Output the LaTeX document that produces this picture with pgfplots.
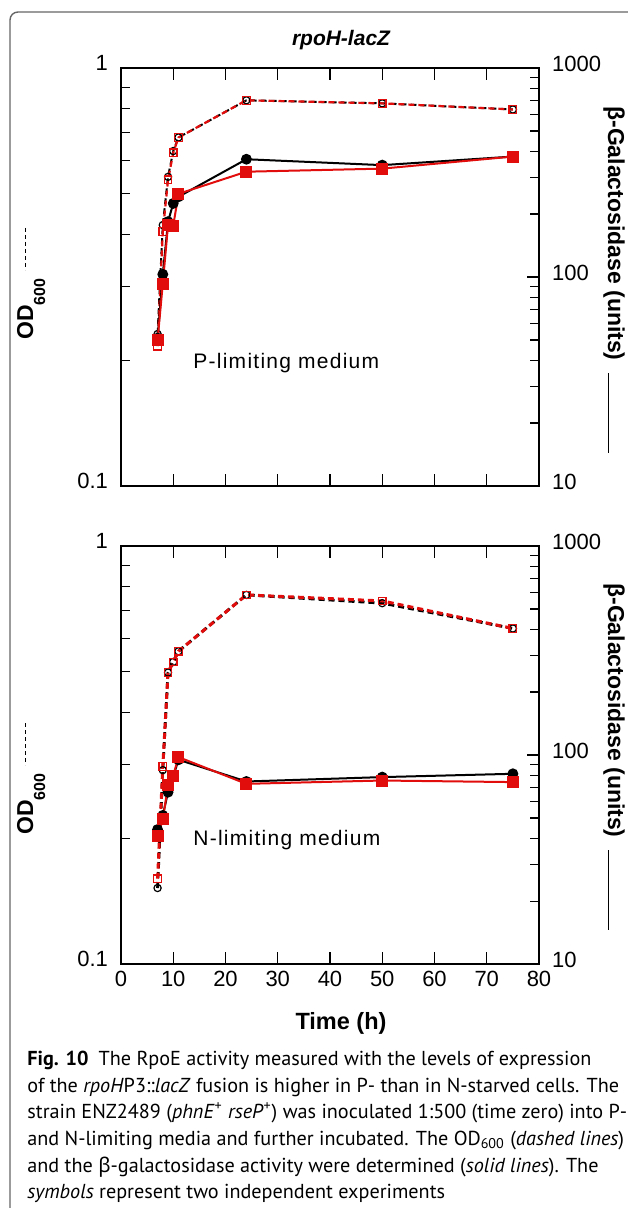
\documentclass[border=0pt]{standalone}
\usepackage{pgfplots}
\pgfplotsset{compat=1.18}
\usepackage{fontspec}
\setmainfont{Liberation Sans}
\newfontfamily\capfont{PT Sans}
\newfontfamily\greekfont{Noto Sans}
\newfontfamily\medfont{Liberation Sans}[LetterSpace=6]
\definecolor{myred}{RGB}{225,12,12}

\pgfplotsset{
  panel/.style={
    anchor=south west, scale only axis,
    width=209pt, height=209pt,
    xmin=0, xmax=80,
    tick align=inside, major tick length=6pt, minor tick length=4.5pt,
    tick style={black, line width=0.6pt},
    ticklabel style={font=\fontsize{11}{13}\selectfont},
    /pgf/number format/assume math mode=true,
    axis line style={line width=0.8pt},
    clip=false,
  },
  leftax/.style={
    ymin=0.1, ymax=1, ytick={0.1,1}, yticklabels={0.1,1},
    minor ytick={0.2,0.3,0.4,0.5,0.6,0.7,0.8,0.9},
    ytick pos=left, yticklabel style={yshift=2.5pt, xshift=-3pt},
  },
  rightax/.style={
    ymin=10, ymax=1000, axis x line=none, axis y line*=right,
    ytick={10,100,1000}, yticklabels={10,100,1000},
    minor ytick={20,30,40,50,60,70,80,90,200,300,400,500,600,700,800,900},
    yticklabel style={yshift=2pt, xshift=3pt},
  },
  od/.style={black, line width=1pt, dash pattern=on 3pt off 2pt,
    mark=o, mark size=1.8pt, mark options={solid, line width=0.6pt}},
  odred/.style={myred, line width=1.1pt, dash pattern=on 3pt off 2pt,
    mark=square, mark size=1.9pt, mark options={solid, line width=0.6pt}},
  bgal/.style={black, line width=1pt, mark=*, mark size=2.2pt},
  bgalred/.style={myred, line width=1pt, mark=square*, mark size=2.5pt},
}

\newcommand{\odlabel}{OD\raisebox{-6pt}{\fontsize{8}{9}\selectfont 600}}

\begin{document}
\begin{tikzpicture}
\useasboundingbox (0,0) rectangle (313.5pt,-604pt);
\draw[black!60, line width=0.7pt, rounded corners=4pt] (5pt,-615pt) -- (5pt,-6pt) -- (325pt,-6pt);

% ---- P-limiting panel ----
\begin{axis}[ymode=log, at={(60.5pt,-243pt)}, panel, leftax,
  xtick={10,20,...,70}, xticklabels={}]
\addplot[od] coordinates {(7,0.231) (8,0.421) (9,0.549) (10,0.633) (11,0.682) (24,0.837) (50,0.823) (75,0.796)};
\addplot[odred] coordinates {(7,0.216) (8,0.406) (9,0.540) (10,0.627) (11,0.682) (24,0.837) (50,0.823) (75,0.796)};
\end{axis}
\begin{axis}[ymode=log, at={(60.5pt,-243pt)}, panel, rightax]
\addplot[bgal] coordinates {(7,51) (8,103) (9,184) (10,225) (11,242) (24,366) (50,343) (75,377)};
\addplot[bgalred] coordinates {(7,50) (8,93) (9,177) (10,176) (11,250) (24,319) (50,330) (75,377)};
\end{axis}

% ---- N-limiting panel ----
\begin{axis}[ymode=log, at={(60.5pt,-482pt)}, panel, leftax,
  xtick={0,10,...,80}, xticklabels={0,10,20,30,40,50,60,70,80}]
\addplot[od, line width=1.4pt] coordinates {(7,0.152) (8,0.291) (9,0.498) (10,0.528) (11,0.560) (24,0.764) (50,0.730) (75,0.635)};
\addplot[odred, line width=1.5pt] coordinates {(7,0.160) (8,0.297) (9,0.498) (10,0.528) (11,0.560) (24,0.764) (50,0.739) (75,0.635)};
\end{axis}
\begin{axis}[ymode=log, at={(60.5pt,-482pt)}, panel, rightax]
\addplot[bgal] coordinates {(7,44) (8,51.4) (9,66.4) (10,79) (11,94.9) (24,74.7) (50,78.4) (75,81.3)};
\addplot[bgalred] coordinates {(7,40.8) (8,49.2) (9,71.5) (10,79.8) (11,97.7) (24,72.8) (50,75.5) (75,74.2)};
\end{axis}

% titles and labels
\node[font=\bfseries\itshape\fontsize{10.5}{12}\selectfont] at (170.5pt,-20pt) {rpoH-lacZ};
\node[font=\bfseries\fontsize{11.75}{14}\selectfont] at (170.5pt,-511.5pt) {Time (h)};

\node[font=\medfont\fontsize{10.5}{12}\selectfont, anchor=base west, inner sep=0] at (96.5pt,-184pt) {P-limiting medium};
\node[font=\medfont\fontsize{10.5}{12}\selectfont, anchor=base west, inner sep=0] at (96.5pt,-422.5pt) {N-limiting medium};

\node[rotate=90, anchor=base west, inner sep=0, font=\bfseries\fontsize{11.5}{13}\selectfont] at (16.5pt,-170pt) {\odlabel};
\draw[line width=0.5pt, dash pattern=on 2.2pt off 1.3pt] (12.5pt,-114pt) -- (12.5pt,-135pt);
\node[rotate=90, anchor=base west, inner sep=0, font=\bfseries\fontsize{11.5}{13}\selectfont] at (16.5pt,-417.5pt) {\odlabel};
\draw[line width=0.5pt, dash pattern=on 2.2pt off 1.3pt] (12.5pt,-361.5pt) -- (12.5pt,-382.5pt);

\node[rotate=-90, font=\bfseries\fontsize{11.5}{13}\selectfont] at (307pt,-116.75pt) {β-Galactosidase (units)};
\draw[line width=0.5pt] (304pt,-186.5pt) -- (304pt,-226.5pt);
\node[rotate=-90, font=\bfseries\fontsize{11.5}{13}\selectfont] at (307pt,-355.25pt) {β-Galactosidase (units)};
\draw[line width=0.5pt] (304pt,-425pt) -- (304pt,-465pt);

% caption
\begin{scope}[every node/.style={anchor=base west, inner sep=0, font=\capfont\fontsize{10.1}{13}\selectfont}]
\node at (13.5pt,-532.5pt) {\textbf{Fig. 10}\enspace The RpoE activity measured with the levels of expression};
\node at (13.5pt,-546pt) {of the \textit{rpoH}P3::\textit{lacZ} fusion is higher in P- than in N-starved cells. The};
\node at (13.5pt,-559pt) {strain ENZ2489 (\textit{phnE}\textsuperscript{+} \textit{rseP}\textsuperscript{+}) was inoculated 1:500 (time zero) into P-};
\node at (13.5pt,-572.5pt) {and N-limiting media and further incubated. The OD\textsubscript{600} (\textit{dashed lines})};
\node at (13.5pt,-586pt) {and the {\greekfont β}-galactosidase activity were determined (\textit{solid lines}). The};
\node at (13.5pt,-599pt) {\textit{symbols} represent two independent experiments};
\end{scope}
\end{tikzpicture}
\end{document}
